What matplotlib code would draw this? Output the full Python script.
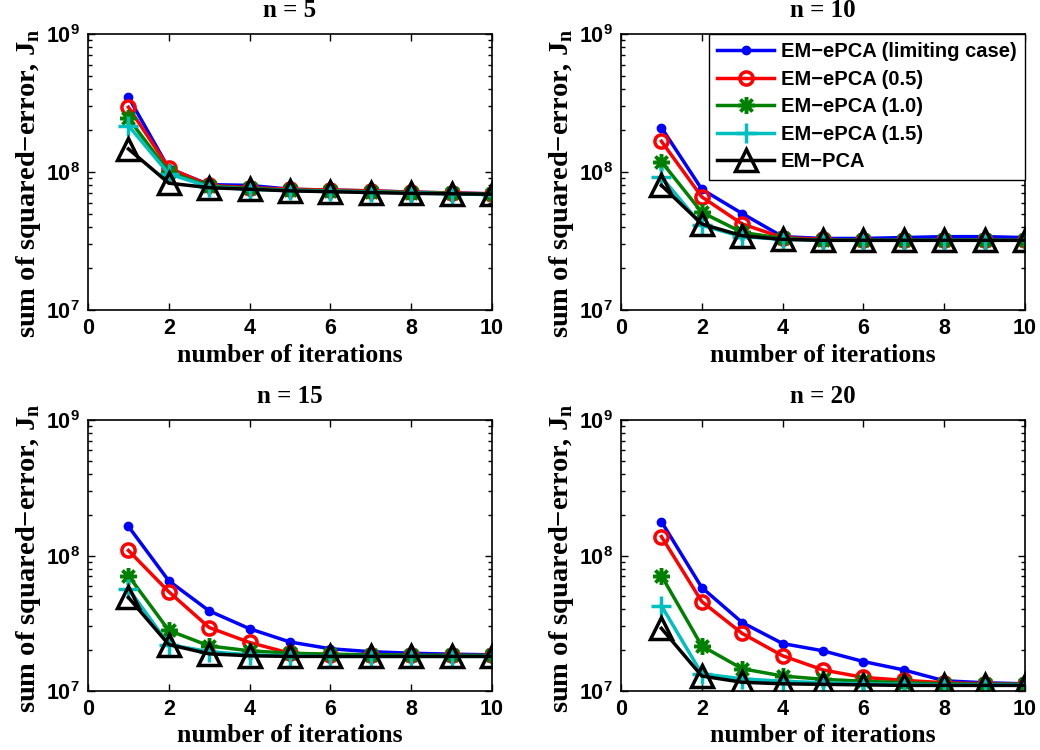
import numpy as np
import matplotlib
matplotlib.use("Agg")
import matplotlib.pyplot as plt
from matplotlib.ticker import FuncFormatter, LogLocator

plt.rcParams['mathtext.fontset'] = 'custom'
plt.rcParams['mathtext.bf'] = 'Liberation Serif:bold'
plt.rcParams['mathtext.sf'] = 'Liberation Sans:bold'
plt.rcParams['mathtext.rm'] = 'Liberation Serif:bold'

iters = [1, 2, 3, 4, 5, 6, 7, 8, 9, 10]
titles = ["n = 5", "n = 10", "n = 15", "n = 20"]
labels = ["EM\u2212ePCA (limiting case)", "EM\u2212ePCA (0.5)", "EM\u2212ePCA (1.0)",
          "EM\u2212ePCA (1.5)", "EM\u2212PCA"]

# n = 5
n5_lim = [3.5e8, 1.06e8, 8.1e7, 8.0e7, 7.5e7, 7.4e7, 7.3e7, 7.15e7, 7.05e7, 6.95e7]
n5_05 = [2.95e8, 1.07e8, 8.0e7, 7.7e7, 7.5e7, 7.4e7, 7.3e7, 7.15e7, 7.05e7, 6.95e7]
n5_10 = [2.45e8, 1.0e8, 7.9e7, 7.6e7, 7.4e7, 7.3e7, 7.2e7, 7.1e7, 7.0e7, 6.9e7]
n5_15 = [2.17e8, 9.7e7, 7.8e7, 7.5e7, 7.35e7, 7.25e7, 7.15e7, 7.05e7, 6.95e7, 6.85e7]
n5_pca = [1.47e8, 8.3e7, 7.7e7, 7.5e7, 7.3e7, 7.2e7, 7.1e7, 7.0e7, 6.95e7, 6.9e7]

# n = 10
n10_lim = [2.1e8, 7.5e7, 5.0e7, 3.4e7, 3.3e7, 3.3e7, 3.35e7, 3.4e7, 3.4e7, 3.35e7]
n10_05 = [1.67e8, 6.6e7, 4.2e7, 3.35e7, 3.25e7, 3.2e7, 3.2e7, 3.2e7, 3.2e7, 3.2e7]
n10_10 = [1.19e8, 5.1e7, 3.65e7, 3.3e7, 3.2e7, 3.2e7, 3.2e7, 3.2e7, 3.2e7, 3.2e7]
n10_15 = [9.2e7, 4.1e7, 3.4e7, 3.25e7, 3.2e7, 3.2e7, 3.2e7, 3.2e7, 3.2e7, 3.2e7]
n10_pca = [8.0e7, 4.2e7, 3.45e7, 3.25e7, 3.2e7, 3.2e7, 3.2e7, 3.2e7, 3.2e7, 3.2e7]

# n = 15
n15_lim = [1.64e8, 6.5e7, 3.9e7, 2.88e7, 2.3e7, 2.05e7, 1.95e7, 1.9e7, 1.87e7, 1.85e7]
n15_05 = [1.09e8, 5.4e7, 2.94e7, 2.28e7, 1.9e7, 1.85e7, 1.85e7, 1.83e7, 1.83e7, 1.83e7]
n15_10 = [7.1e7, 2.8e7, 2.15e7, 1.98e7, 1.9e7, 1.87e7, 1.85e7, 1.84e7, 1.83e7, 1.83e7]
n15_15 = [5.7e7, 2.2e7, 1.95e7, 1.85e7, 1.82e7, 1.8e7, 1.8e7, 1.8e7, 1.8e7, 1.8e7]
n15_pca = [4.9e7, 2.2e7, 1.88e7, 1.82e7, 1.8e7, 1.8e7, 1.8e7, 1.8e7, 1.8e7, 1.8e7]

# n = 20
n20_lim = [1.78e8, 5.8e7, 3.2e7, 2.24e7, 1.98e7, 1.65e7, 1.43e7, 1.19e7, 1.15e7, 1.13e7]
n20_05 = [1.38e8, 4.57e7, 2.66e7, 1.82e7, 1.43e7, 1.26e7, 1.2e7, 1.15e7, 1.13e7, 1.12e7]
n20_10 = [7.1e7, 2.15e7, 1.46e7, 1.29e7, 1.22e7, 1.18e7, 1.15e7, 1.13e7, 1.12e7, 1.12e7]
n20_15 = [4.26e7, 1.34e7, 1.23e7, 1.18e7, 1.15e7, 1.13e7, 1.12e7, 1.11e7, 1.11e7, 1.11e7]
n20_pca = [2.9e7, 1.29e7, 1.16e7, 1.13e7, 1.12e7, 1.11e7, 1.1e7, 1.1e7, 1.1e7, 1.1e7]

panels = [
    [n5_lim, n5_05, n5_10, n5_15, n5_pca],
    [n10_lim, n10_05, n10_10, n10_15, n10_pca],
    [n15_lim, n15_05, n15_10, n15_15, n15_pca],
    [n20_lim, n20_05, n20_10, n20_15, n20_pca],
]

styles = [
    dict(color=(0, 0, 1), marker='o', ms=6, mfc=(0, 0, 1), mew=1),
    dict(color=(1, 0, 0), marker='o', ms=9.5, mfc='none', mew=2.5),
    dict(color=(0, 0.5, 0), marker=(8, 2, 0), ms=12, mew=2.5),
    dict(color=(0, 0.75, 0.75), marker='+', ms=14, mew=2.5),
    dict(color='k', marker='^', ms=16, mfc='none', mew=2.5),
]

W, H = 1040, 750
rects = [
    [88 / W, 1 - 310 / H, 404 / W, 276 / H],
    [621 / W, 1 - 310 / H, 404 / W, 276 / H],
    [88 / W, 1 - 691 / H, 404 / W, 271 / H],
    [621 / W, 1 - 691 / H, 404 / W, 271 / H],
]
ylab_y = [0.46, 0.46, 0.49, 0.49]

serif = 'Liberation Serif'
sans = 'Liberation Sans'

fig = plt.figure(figsize=(10.4, 7.5), dpi=100)

for i in range(4):
    ax = fig.add_axes(rects[i])
    for j in range(5):
        ax.plot(iters, panels[i][j], lw=2.5, label=labels[j], **styles[j])
    ax.set_yscale('log')
    ax.set_ylim(1e7, 1e9)
    ax.set_xlim(0, 10)
    ax.set_xticks([0, 2, 4, 6, 8, 10])
    ax.yaxis.set_major_locator(LogLocator(base=10, numticks=5))
    ax.yaxis.set_minor_locator(LogLocator(base=10, subs=np.arange(2, 10), numticks=20))
    ax.yaxis.set_major_formatter(FuncFormatter(lambda v, p: r'$\mathsf{10^{%d}}$' % int(round(np.log10(v)))))
    ax.tick_params(which='both', direction='in', top=True, right=True, width=1)
    ax.tick_params(which='major', length=5, labelsize=15.5, pad=6)
    ax.tick_params(which='minor', length=3)
    for lab in ax.get_xticklabels():
        lab.set_fontfamily(sans)
        lab.set_fontweight('bold')
    for sp in ax.spines.values():
        sp.set_linewidth(1.2)
    ax.set_title(titles[i], fontfamily=serif, fontweight='bold', fontsize=18, pad=12)
    ax.set_xlabel("number of iterations", fontfamily=serif, fontweight='bold', fontsize=18.5, labelpad=3)
    ax.set_ylabel("sum of squared\u2212error, J$_\\mathbf{n}$", fontfamily=serif,
                  fontweight='bold', fontsize=20.5)
    ax.yaxis.set_label_coords(-0.112, ylab_y[i])
    if i == 1:
        leg = ax.legend(loc='upper right', borderaxespad=0, fancybox=False,
                        edgecolor='k', framealpha=1, handlelength=2.8,
                        handletextpad=0.35, labelspacing=0.42, borderpad=0.42,
                        prop={'family': sans, 'weight': 'bold', 'size': 14.5})
        leg.get_frame().set_linewidth(1)

plt.savefig("out.png", dpi=100)
